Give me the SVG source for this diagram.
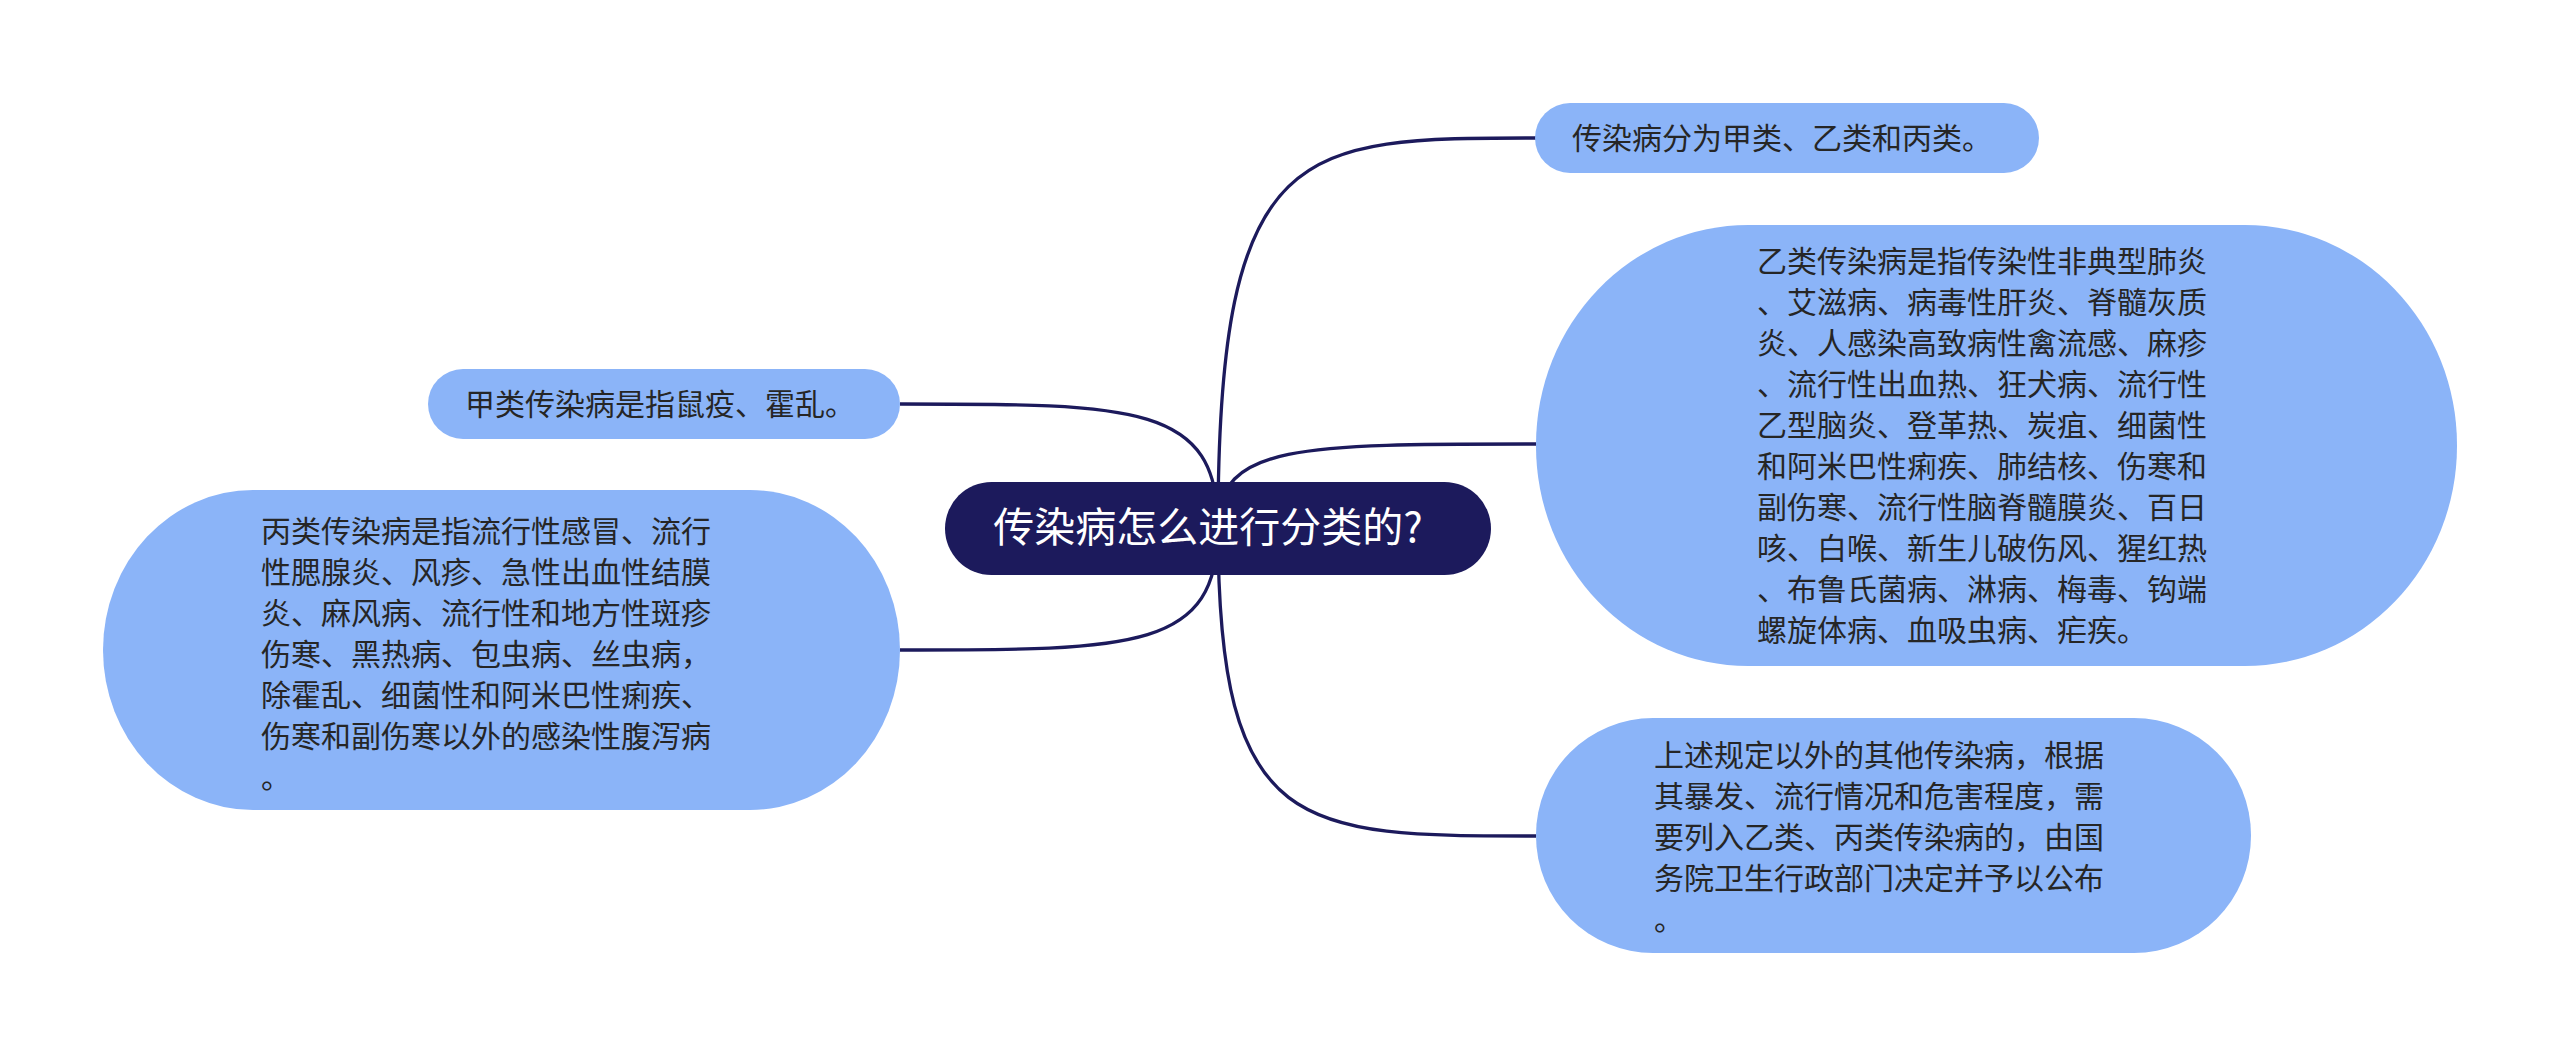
<svg xmlns="http://www.w3.org/2000/svg" width="2560" height="1057" viewBox="0 0 2560 1057">
<style>
.node{fill:#8bb4f8;}
.root{fill:#1c1a5c;}
.t{font-family:"Noto Sans CJK SC","Noto Sans",sans-serif;font-size:30px;fill:#262626;}
.rt{font-family:"Noto Sans CJK SC","Noto Sans",sans-serif;font-size:41px;fill:#ffffff;}
.edge{fill:none;stroke:#1c1a5c;stroke-width:3.3;}
</style>
<rect width="2560" height="1057" fill="#ffffff"/>
<g id="connectors">
<path class="edge" d="M1218,527 C1218,138 1300,138 1536,138"/>
<path class="edge" d="M1218,527 C1218,444 1300,444 1536,444"/>
<path class="edge" d="M1218,527 C1218,836 1300,836 1536,836"/>
<path class="edge" d="M1218,527 C1218,404 1136,404 900,404"/>
<path class="edge" d="M1218,527 C1218,650 1136,650 900,650"/>
</g>
<g id="root">
<rect class="root" x="945" y="482" width="546" height="93" rx="46.5"/>
<text class="rt" x="1208" y="542" text-anchor="middle">传染病怎么进行分类的?</text>
</g>
<g id="n1">
<rect class="node" x="1535" y="103" width="504" height="70" rx="35"/>
<text class="t" x="1572" y="149">传染病分为甲类、乙类和丙类。</text>
</g>
<g id="n2">
<rect class="node" x="1536" y="225" width="921" height="441" rx="212" ry="220"/>
<text class="t">
<tspan x="1757" y="272">乙类传染病是指传染性非典型肺炎</tspan>
<tspan x="1757" y="313">、艾滋病、病毒性肝炎、脊髓灰质</tspan>
<tspan x="1757" y="354">炎、人感染高致病性禽流感、麻疹</tspan>
<tspan x="1757" y="395">、流行性出血热、狂犬病、流行性</tspan>
<tspan x="1757" y="436">乙型脑炎、登革热、炭疽、细菌性</tspan>
<tspan x="1757" y="477">和阿米巴性痢疾、肺结核、伤寒和</tspan>
<tspan x="1757" y="518">副伤寒、流行性脑脊髓膜炎、百日</tspan>
<tspan x="1757" y="559">咳、白喉、新生儿破伤风、猩红热</tspan>
<tspan x="1757" y="600">、布鲁氏菌病、淋病、梅毒、钩端</tspan>
<tspan x="1757" y="641">螺旋体病、血吸虫病、疟疾。</tspan>
</text>
</g>
<g id="n3">
<rect class="node" x="1536" y="718" width="715" height="235" rx="117"/>
<text class="t">
<tspan x="1654" y="766">上述规定以外的其他传染病，根据</tspan>
<tspan x="1654" y="807">其暴发、流行情况和危害程度，需</tspan>
<tspan x="1654" y="848">要列入乙类、丙类传染病的，由国</tspan>
<tspan x="1654" y="889">务院卫生行政部门决定并予以公布</tspan>
<tspan x="1654" y="930">。</tspan>
</text>
</g>
<g id="n4">
<rect class="node" x="428" y="369" width="472" height="70" rx="35"/>
<text class="t" x="465" y="415">甲类传染病是指鼠疫、霍乱。</text>
</g>
<g id="n5">
<rect class="node" x="103" y="490" width="797" height="320" rx="150" ry="160"/>
<text class="t">
<tspan x="261" y="542">丙类传染病是指流行性感冒、流行</tspan>
<tspan x="261" y="583">性腮腺炎、风疹、急性出血性结膜</tspan>
<tspan x="261" y="624">炎、麻风病、流行性和地方性斑疹</tspan>
<tspan x="261" y="665">伤寒、黑热病、包虫病、丝虫病，</tspan>
<tspan x="261" y="706">除霍乱、细菌性和阿米巴性痢疾、</tspan>
<tspan x="261" y="747">伤寒和副伤寒以外的感染性腹泻病</tspan>
<tspan x="261" y="788">。</tspan>
</text>
</g>
</svg>
